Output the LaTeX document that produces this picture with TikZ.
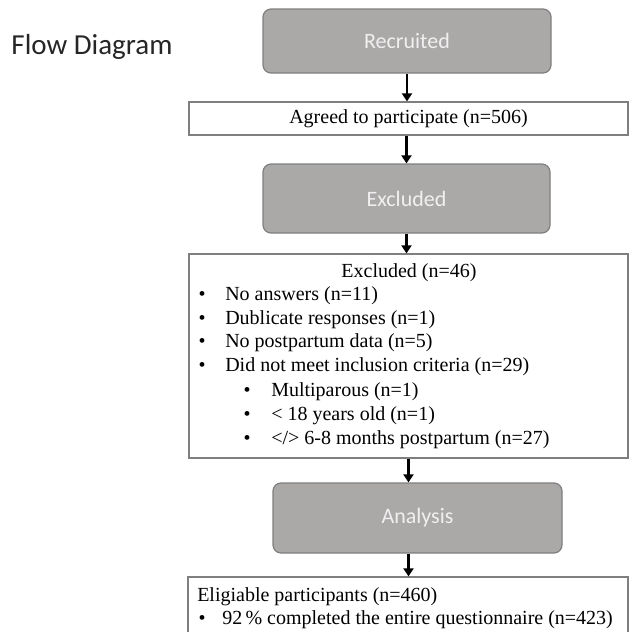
\documentclass[tikz,border=0pt]{standalone}
\usepackage{fontspec}
\setmainfont{Liberation Serif}
\newfontfamily\calibri{Carlito}
\usetikzlibrary{arrows.meta}
\definecolor{boxgray}{HTML}{ABA8A8}
\definecolor{edgegray}{HTML}{7F7F7F}
\definecolor{titlegray}{HTML}{262626}

\tikzset{
    stage/.style={draw=edgegray, line width=0.9pt, fill=boxgray, rounded corners=6pt,
        text=white!94!black, font=\calibri\fontsize{16.5}{19}\selectfont},
    listbox/.style={draw=edgegray, line width=0.9pt, fill=white,
        font=\fontsize{15}{18}\selectfont},
    flow/.style={-{Triangle[length=6pt,width=7.5pt]}, line width=1.7pt, black},
    entry/.style={anchor=west, inner sep=0pt, font=\fontsize{15}{18}\selectfont},
    dot/.style={inner sep=0pt, font=\fontsize{15}{18}\selectfont}
}

\begin{document}
\begin{tikzpicture}[x=0.75pt, y=-0.75pt]
    \clip (0,0) rectangle (629,632);
    \node[font=\calibri\fontsize{21.75}{26}\selectfont, text=titlegray] (title) at (92,47) {Flow Diagram};
    % stages
    \node[stage, minimum width=216pt, minimum height=48pt] (recruited) at (407,41) {Recruited};
    \node[listbox, minimum width=329.25pt, minimum height=24.75pt] (agreed) at (408.5,118.5)
        {Agreed to participate (n=506)};
    \node[stage, minimum width=215.25pt, minimum height=51.75pt] (excl) at (406.5,198.5) {Excluded};
    \node[listbox, minimum width=329.25pt, minimum height=153pt] (exclist) at (408.5,356) {};
    \node[stage, minimum width=216.75pt, minimum height=52.5pt] (analysis) at (417.5,518) {Analysis};
    \node[listbox, minimum width=330pt, minimum height=60pt] (eligible) at (408,617) {};
    % excluded list
    \node[dot] (exhead) at (409,273) {Excluded (n=46)};
    \foreach \y/\txt [count=\i] in {296/No answers (n=11), 320/Dublicate responses (n=1),
        343/No postpartum data (n=5), 367/Did not meet inclusion criteria (n=29)} {
        \node[dot] (bul\i) at (202,\y) {\textbullet};
        \node[entry] (item\i) at (225,\y) {\txt};
    }
    \foreach \y/\txt [count=\i] in {392/{Multiparous (n=1)}, 416/{< 18 years old (n=1)},
        440/{</> 6-8 months postpartum (n=27)}} {
        \node[dot] (subbul\i) at (247,\y) {\textbullet};
        \node[entry] (subitem\i) at (271,\y) {\txt};
    }
    % eligible
    \node[entry] (elhead) at (197,597) {Eligiable participants (n=460)};
    \node[dot] (elbul) at (202,620) {\textbullet};
    \node[entry] (elitem) at (222,620) {92\,\% completed the entire questionnaire (n=423)};
    % arrows
    \draw[flow] (recruited.south) -- (recruited.south |- agreed.north);
    \draw[flow] (agreed.south -| excl) -- (excl.north);
    \draw[flow] (excl.south) -- (excl.south |- exclist.north);
    \draw[flow] (exclist.south) -- (exclist.south |- analysis.north);
    \draw[flow] (analysis.south -| exclist) -- (exclist |- eligible.north);
\end{tikzpicture}
\end{document}
